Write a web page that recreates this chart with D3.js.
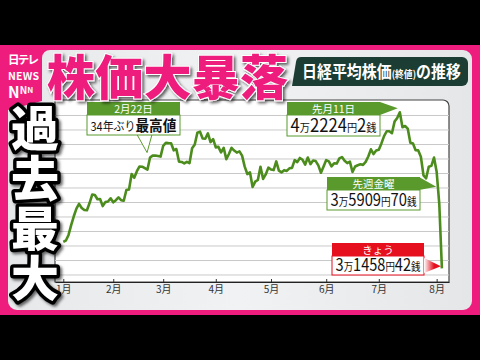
<!DOCTYPE html>
<html>
<head>
<meta charset="utf-8">
<script src="https://cdn.jsdelivr.net/npm/d3@7"></script>
<style>
	html, body { margin: 0; padding: 0; background: #000; }
	svg { display: block; }
	text { font-family: 'Noto Sans CJK JP', 'Noto Sans', sans-serif; }
</style>
</head>
<body>
<div id="chart"></div>
<script>
// 日経平均 終値 2024/1/4 - 2024/8/5
const months = ['2024-01', '2024-02', '2024-03', '2024-04', '2024-05', '2024-06', '2024-07', '2024-08'];
const monthLabels = ['1月', '2月', '3月', '4月', '5月', '6月', '7月', '8月'];
const tradingDays = [
	[4, 5, 9, 10, 11, 12, 15, 16, 17, 18, 19, 22, 23, 24, 25, 26, 29, 30, 31],
	[1, 2, 5, 6, 7, 8, 9, 13, 14, 15, 16, 19, 20, 21, 22, 26, 27, 28, 29],
	[1, 4, 5, 6, 7, 8, 11, 12, 13, 14, 15, 18, 19, 21, 22, 25, 26, 27, 28, 29],
	[1, 2, 3, 4, 5, 8, 9, 10, 11, 12, 15, 16, 17, 18, 19, 22, 23, 24, 25, 26, 30],
	[1, 2, 7, 8, 9, 10, 13, 14, 15, 16, 17, 20, 21, 22, 23, 24, 27, 28, 29, 30, 31],
	[3, 4, 5, 6, 7, 10, 11, 12, 13, 14, 17, 18, 19, 20, 21, 24, 25, 26, 27, 28],
	[1, 2, 3, 4, 5, 8, 9, 10, 11, 12, 16, 17, 18, 19, 22, 23, 24, 25, 26, 29, 30, 31],
	[1, 2, 5]
];
const closes = [
	33288, 33377, 33763, 34442, 35050, 35577, 35902, 35619, 35478, 35466, 35963, 36547, 36518, 36226, 36236, 35751, 36027, 36066, 36287,
	36011, 36158, 36354, 36161, 36120, 36863, 36897, 37964, 37703, 38158, 38487, 38470, 38364, 38262, 39099, 39234, 39240, 39208, 39166,
	39911, 40109, 40098, 40091, 39599, 39689, 38820, 38798, 38696, 38807, 38708, 39740, 40004, 40816, 40888, 40414, 40398, 40763, 40168, 40369,
	39803, 39839, 39452, 39773, 38992, 39347, 39773, 39582, 39443, 39524, 39233, 38471, 37962, 38080, 37068, 37439, 37552, 38460, 37628, 37935, 38406,
	38274, 38236, 38835, 38202, 38074, 38229, 38179, 38356, 38386, 38920, 38787, 39070, 38947, 38617, 39103, 38646, 38900, 38855, 38557, 38054, 38488,
	38923, 38837, 38490, 38704, 38684, 39038, 39135, 38877, 38720, 38815, 38102, 38482, 38571, 38633, 38596, 38805, 39173, 39667, 39342, 39583,
	39631, 40075, 40581, 40914, 40912, 40781, 41580, 41832, 42224, 41191, 41275, 41098, 40126, 40064, 39599, 39594, 39155, 37870, 37667, 38469, 38526, 39102,
	38126, 35910, 31458
];
const gridValues = [31000, 32000, 33000, 34000, 35000, 36000, 37000, 38000, 39000, 40000, 41000, 42000];

const dates = [];
tradingDays.forEach((days, m) => days.forEach(d => dates.push(months[m] + '-' + String(d).padStart(2, '0'))));
const series = dates.map((d, i) => ({ date: d, idx: i, value: closes[i] }));
const monthStart = months.map(m => dates.findIndex(d => d.startsWith(m)));
const idxOf = d => dates.indexOf(d);

const W = 480, H = 360;
const plot = { left: 55, right: 449, top: 100, bottom: 282 };
const pink = '#ee1d7d', green = '#5a9a2c', lineGreen = '#4c8c1d', red = '#e60f1e';

const x = d3.scaleLinear().domain([-3.15, 146.7]).range([plot.left, plot.right]);
const y = d3.scaleLinear().domain([30517, 43069]).range([plot.bottom, plot.top]);

const svg = d3.select('#chart').append('svg')
	.attr('width', W)
	.attr('height', H)
	.attr('viewBox', `0 0 ${W} ${H}`);

const defs = svg.append('defs');
const panelGrad = defs.append('linearGradient').attr('id', 'panelGrad').attr('x1', 0).attr('x2', 1).attr('y1', 0).attr('y2', 0);
panelGrad.append('stop').attr('offset', '0').attr('stop-color', '#e6e8ea');
panelGrad.append('stop').attr('offset', '0.5').attr('stop-color', '#f1f2f3');
panelGrad.append('stop').attr('offset', '1').attr('stop-color', '#e4e6e8');
const redGrad = defs.append('linearGradient').attr('id', 'redGrad').attr('x1', 0).attr('x2', 1);
redGrad.append('stop').attr('offset', '0').attr('stop-color', '#ffffff');
redGrad.append('stop').attr('offset', '0.6').attr('stop-color', red);
const shadow = defs.append('filter').attr('id', 'shadow').attr('x', '-20%').attr('y', '-20%').attr('width', '140%').attr('height', '140%');
shadow.append('feDropShadow').attr('dx', 2).attr('dy', 2).attr('stdDeviation', 1.5).attr('flood-color', '#000').attr('flood-opacity', 0.6);

svg.append('rect').attr('width', W).attr('height', H).attr('fill', '#000');
svg.append('rect').attr('x', 0).attr('y', 45).attr('width', W).attr('height', 270).attr('fill', pink);

// panel
const p = d3.path();
p.moveTo(50, 50);
p.lineTo(463, 50);
p.arcTo(472, 50, 472, 59, 9);
p.lineTo(472, 301);
p.arcTo(472, 310, 463, 310, 9);
p.lineTo(17, 310);
p.arcTo(8, 310, 8, 301, 9);
p.lineTo(8, 110);
p.lineTo(42, 101);
p.lineTo(42, 58);
p.arcTo(42, 50, 50, 50, 8);
p.closePath();
svg.append('path').attr('d', p.toString()).attr('fill', 'url(#panelGrad)');

// logo
const logo = svg.append('g').attr('fill', '#fff').attr('font-weight', 'bold');
logo.append('text').attr('x', 8).attr('y', 64).attr('font-size', 11.5).attr('textLength', 31).text('日テレ');
logo.append('text').attr('x', 8).attr('y', 80).attr('font-size', 10.5).attr('textLength', 31).text('NEWS');
const nnn = logo.append('text').attr('x', 8).attr('y', 98).attr('font-size', 15.5);
nnn.append('tspan').text('N');
nnn.append('tspan').attr('font-size', 10).attr('dy', -4).text('N');
nnn.append('tspan').attr('font-size', 8).attr('dy', -1).text('N');

// plot area
const frame = d3.path();
frame.moveTo(plot.left, plot.top);
frame.lineTo(plot.right - 6, plot.top);
frame.arcTo(plot.right, plot.top, plot.right, plot.top + 6, 6);
frame.lineTo(plot.right, plot.bottom);
frame.lineTo(plot.left, plot.bottom);
frame.closePath();
svg.append('path').attr('d', frame.toString()).attr('fill', '#fff').attr('stroke', '#444').attr('stroke-width', 1.2);

svg.append('g').selectAll('line')
	.data(gridValues)
	.enter()
	.append('line')
	.attr('x1', plot.left)
	.attr('x2', plot.right)
	.attr('y1', d => y(d))
	.attr('y2', d => y(d))
	.attr('stroke', '#c9c9c9')
	.attr('stroke-width', 1);

const axis = svg.append('g')
	.attr('transform', `translate(0,${plot.bottom})`)
	.call(d3.axisBottom(x)
		.tickValues(monthStart)
		.tickFormat((d, i) => monthLabels[i])
		.tickSize(-3)
		.tickSizeOuter(0)
		.tickPadding(4));
axis.select('.domain').attr('stroke', '#222').attr('stroke-width', 1.2);
axis.selectAll('.tick line').attr('stroke', '#333');
axis.selectAll('.tick text').attr('fill', '#333').attr('font-size', 10).attr('font-family', "'Noto Sans CJK JP', sans-serif");

const line = d3.line().x(d => x(d.idx)).y(d => y(d.value));
svg.append('path')
	.datum(series)
	.attr('d', line)
	.attr('fill', 'none')
	.attr('stroke', lineGreen)
	.attr('stroke-width', 2.6)
	.attr('stroke-linejoin', 'round');

// annotation helpers
function money(sel, str, big, small) {
	str.split(/(\d+)/).filter(s => s !== '').forEach(s => {
		sel.append('tspan')
			.attr('font-size', /\d/.test(s) ? big : small)
			.text(s);
	});
}

function callout(o) {
	const g = svg.append('g');
	const color = o.color || green;
	const cx = o.x + o.w / 2;
	if (o.tail) g.append('path').attr('d', o.tail).attr('fill', o.tailFill || color).attr('stroke', color).attr('stroke-width', 1);
	g.append('rect').attr('x', o.x).attr('y', o.y + o.hh).attr('width', o.w).attr('height', o.bh)
		.attr('fill', '#fff').attr('stroke', color).attr('stroke-width', 1);
	g.append('rect').attr('x', o.x).attr('y', o.y).attr('width', o.w).attr('height', o.hh).attr('fill', color);
	if (o.arrow) g.append('path').attr('d', o.arrow).attr('fill', o.arrowFill || color);
	g.append('text').attr('x', cx).attr('y', o.y + o.hh - 2.5).attr('text-anchor', 'middle')
		.attr('fill', '#fff').attr('font-size', 10.5).text(o.head);
	const t = g.append('text').attr('x', cx).attr('y', o.y + o.hh + o.bh - 3.5)
		.attr('text-anchor', 'middle').attr('fill', '#111');
	o.body(t);
	const len = t.node().getComputedTextLength();
	const s = Math.min(1, (o.w - 7) / len);
	t.attr('transform', `translate(${cx},0) scale(${s},1) translate(${-cx},0)`);
	return g;
}

const feb22 = series[idxOf('2024-02-22')];
const jul11 = series[idxOf('2024-07-11')];
const aug2 = series[idxOf('2024-08-02')];
const aug5 = series[idxOf('2024-08-05')];

callout({
	x: 87, y: 102, w: 93, hh: 13, bh: 20,
	head: '2月22日',
	tail: `M137,134.5L${x(feb22.idx) - 3},${y(feb22.value) - 5}L152,134.5Z`,
	tailFill: '#fff',
	body: t => {
		t.append('tspan').attr('font-size', 12).text('34年ぶり');
		t.append('tspan').attr('font-size', 15).attr('font-weight', 'bold').text('最高値');
	}
});

callout({
	x: 287, y: 102, w: 93, hh: 13, bh: 21,
	head: '先月11日',
	arrow: `M380,102L${x(jul11.idx) - 2},${y(jul11.value) - 4}L380,115Z`,
	body: t => money(t, '4万2224円2銭', 18, 11)
});

callout({
	x: 327, y: 177, w: 93, hh: 13, bh: 20,
	head: '先週金曜',
	arrow: `M419,177L${x(aug2.idx) - 3},${y(aug2.value) - 17}L419,190Z`,
	body: t => money(t, '3万5909円70銭', 17, 11)
});

callout({
	x: 332, y: 243, w: 92, hh: 13, bh: 19,
	color: red,
	head: 'きょう',
	arrow: `M424,258L${x(aug5.idx) - 1},${y(aug5.value) - 2}L424,273Z`,
	arrowFill: 'url(#redGrad)',
	body: t => money(t, '3万1458円42銭', 17, 11)
});

// header label
const hb = d3.path();
hb.moveTo(302, 57);
hb.lineTo(462, 57);
hb.arcTo(468, 57, 468, 63, 6);
hb.lineTo(468, 80);
hb.arcTo(468, 86, 462, 86, 6);
hb.lineTo(292, 86);
hb.lineTo(296, 62);
hb.arcTo(297, 57, 302, 57, 5);
svg.append('path').attr('d', hb.toString()).attr('fill', '#1b3d33');
const ht = svg.append('text').attr('x', 302).attr('y', 78).attr('fill', '#fff').attr('font-weight', 'bold');
ht.append('tspan').attr('font-size', 17).text('日経平均株価');
ht.append('tspan').attr('font-size', 10).text('(終値)');
ht.append('tspan').attr('font-size', 17).text('の推移');
const hs = Math.min(1, 159 / ht.node().getComputedTextLength());
ht.attr('transform', `translate(302,0) scale(${hs},1) translate(-302,0)`);

// title
svg.append('text')
	.attr('x', 47)
	.attr('y', 95)
	.attr('font-size', 48)
	.attr('font-weight', 900)
	.attr('textLength', 241)
	.attr('fill', pink)
	.attr('stroke', '#fff')
	.attr('stroke-width', 2)
	.attr('paint-order', 'stroke')
	.attr('filter', 'url(#shadow)')
	.text('株価大暴落');

// vertical caption
svg.append('text')
	.attr('x', 35)
	.attr('y', 104)
	.attr('writing-mode', 'vertical-rl')
	.attr('letter-spacing', 2)
	.attr('font-size', 48)
	.attr('font-weight', 900)
	.attr('fill', '#fff')
	.attr('stroke', '#000')
	.attr('stroke-width', 7)
	.attr('stroke-linejoin', 'round')
	.attr('paint-order', 'stroke')
	.attr('filter', 'url(#shadow)')
	.text('過去最大');
</script>
</body>
</html>
